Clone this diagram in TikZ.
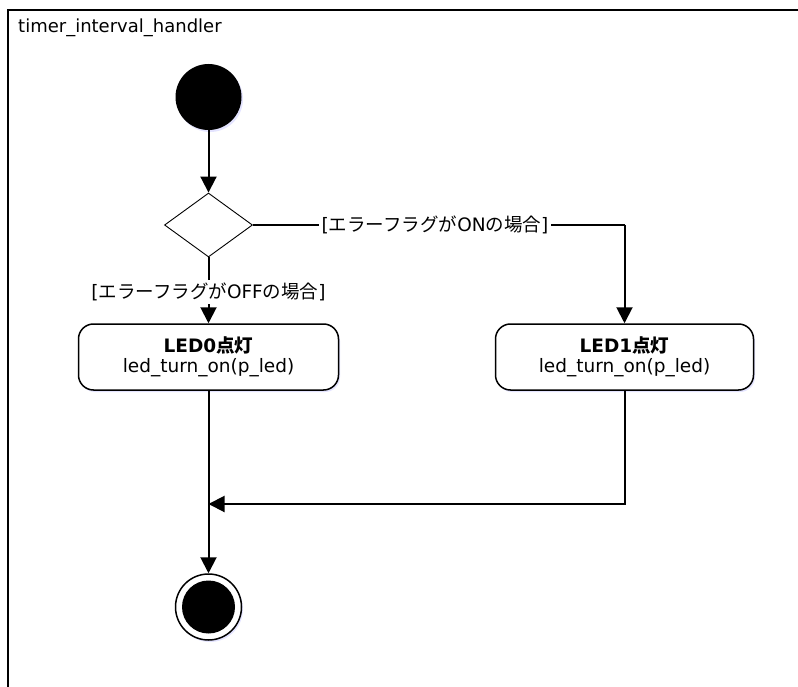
\documentclass[tikz,border=0pt]{standalone}
\usepackage{fontspec}
\setmainfont{DejaVu Sans}
\newfontfamily\jp{Noto Sans CJK JP}
\usetikzlibrary{arrows.meta,shapes.geometric,shadows}
\begin{document}
\begin{tikzpicture}[x=1pt,y=-1pt,
  every node/.style={font=\fontsize{18.5}{20}\selectfont},
  conn/.style={line width=2pt,-{Triangle[length=16pt,width=16pt]}},
  plain/.style={line width=2pt},
  actbox/.style={draw,line width=1.5pt,rounded corners=15pt,fill=white,minimum width=260pt,minimum height=66pt,align=center,inner sep=0pt,
    drop shadow={shadow xshift=1.5pt,shadow yshift=-2pt,fill=blue!30!white,opacity=0.35}},
  guard/.style={fill=white,inner sep=3pt},
  startdot/.style={circle,fill=black,minimum size=66pt,inner sep=0pt,
    drop shadow={shadow xshift=1.5pt,shadow yshift=-2pt,fill=blue!30!white,opacity=0.35}},
  decision/.style={diamond,draw,line width=0.9pt,fill=white,minimum width=88pt,minimum height=64pt,inner sep=0pt,aspect=1.375},
]
\useasboundingbox (0,0) rectangle (798,687);
\fill[white] (0,0) rectangle (798,687);
% frame
\draw[line width=2pt] (8,690) -- (8,10) -- (800,10);
\node[anchor=base west,inner sep=0pt,font=\fontsize{18}{22}\selectfont] (title) at (18,33) {timer\_interval\_handler};

\node[startdot] (init) at (208.5,97) {};
\node[decision] (dec) at (208.5,225) {};
\node[actbox] (led0) at (208.5,357) {\textbf{LED0{\jp 点灯}}\\led\_turn\_on(p\_led)};
\node[actbox,minimum width=258pt] (led1) at (624.5,357) {\textbf{LED1{\jp 点灯}}\\led\_turn\_on(p\_led)};
\node[circle,draw,line width=1.5pt,fill=white,minimum size=66pt,inner sep=0pt,
    drop shadow={shadow xshift=1.5pt,shadow yshift=-2pt,fill=blue!30!white,opacity=0.35}] (final) at (208.5,607) {};
\node[circle,fill=black,minimum size=53pt,inner sep=0pt] (finalin) at (final.center) {};
\coordinate (merge) at (208.5,504);
\coordinate (corner) at (led1.north |- dec.east);

\draw[conn] (init) -- (dec.north);
\draw[conn] (dec.south) -- node[guard,pos=0.52] (offlbl) {[{\jp エラーフラグが}OFF{\jp の場合}]} (led0.north);
\draw[plain] (dec.east) -- node[guard,pos=0.49] (onlbl) {[{\jp エラーフラグが}ON{\jp の場合}]} (corner);
\draw[conn] (corner) -- (led1.north);
\draw[conn] (led0.south) -- (final.north);
\draw[conn] (led1.south) |- (merge);
\end{tikzpicture}
\end{document}
